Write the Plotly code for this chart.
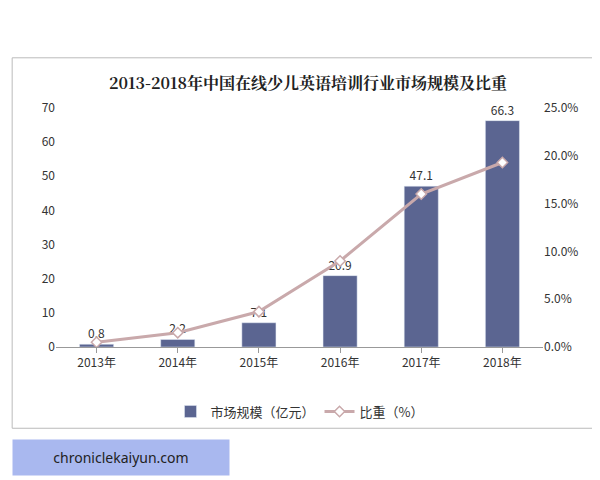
import plotly.graph_objects as go

years = ["2013年", "2014年", "2015年", "2016年", "2017年", "2018年"]
market = [0.8, 2.2, 7.1, 20.9, 47.1, 66.3]
share = [0.5, 1.5, 3.7, 9.0, 16.0, 19.3]

fig = go.Figure()
fig.add_trace(go.Bar(x=years, y=market, name="市场规模（亿元）", marker_color="#5b6591",
                     width=0.42, text=[str(v) for v in market], textposition="outside",
                     textfont=dict(size=12, color="#333"), cliponaxis=False))
fig.add_trace(go.Scatter(x=years, y=share, name="比重（%）", yaxis="y2", mode="lines+markers",
                         line=dict(color="#c9a9ab", width=3),
                         marker=dict(symbol="diamond", size=8, color="white",
                                     line=dict(color="#c9a9ab", width=1.5))))
fig.update_layout(
    width=600, height=480, paper_bgcolor="white", plot_bgcolor="white",
    margin=dict(l=48, r=65, t=100, b=141),
    font=dict(family="Noto Sans CJK SC", size=12, color="#333"),
    title=dict(text="<b>2013-2018年中国在线少儿英语培训行业市场规模及比重</b>", x=0.5, y=0.842,
               yanchor="middle", xanchor="center",
               font=dict(size=16, color="#222", family="Noto Serif CJK SC, Noto Sans CJK SC")),
    xaxis=dict(showline=True, linecolor="#999", ticks="outside", tickcolor="#999"),
    yaxis=dict(range=[0, 70], dtick=10, showgrid=False, showline=False, ticks=""),
    yaxis2=dict(range=[0, 25], dtick=5, overlaying="y", side="right", showgrid=False,
                ticksuffix=".0%", tickformat="d"),
    legend=dict(orientation="h", x=0.5, xanchor="center", y=-0.27, yanchor="middle", font=dict(size=13)),
    bargap=0.5,
    shapes=[dict(type="rect", xref="paper", yref="paper", x0=-0.09, x1=1.105, y0=-0.34, y1=1.21,
                 line=dict(color="#bbb", width=1))],
)
fig.add_annotation(xref="paper", yref="paper", x=-0.09, y=-0.464, xanchor="left", yanchor="middle",
                   text="chroniclekaiyun.com", showarrow=False, bgcolor="#a9b8ef",
                   borderpad=8, font=dict(size=14, color="#222", family="Noto Sans"), width=200, align="center")
fig.write_html("out.html")
